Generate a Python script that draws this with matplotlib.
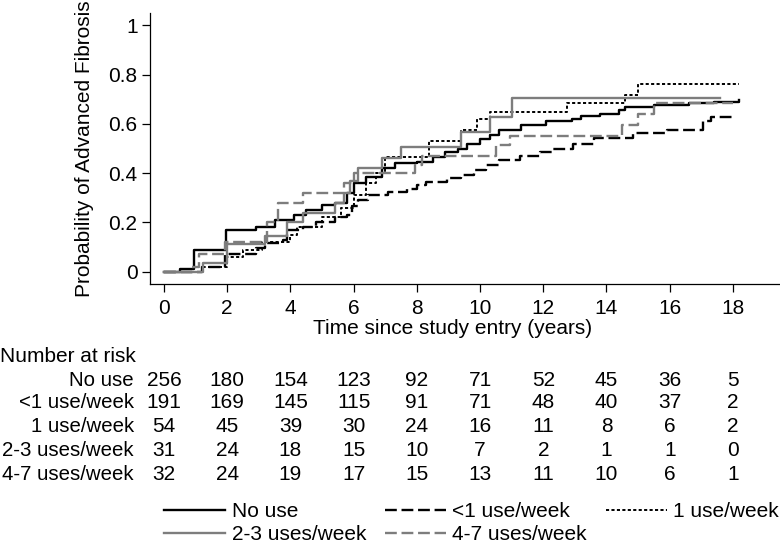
import matplotlib
matplotlib.use("Agg")
import matplotlib.pyplot as plt
import matplotlib.transforms as mtransforms

plt.rcParams['font.family'] = ['Liberation Sans', 'DejaVu Sans']

# ---------------- data ----------------
groups = ["No use", "<1 use/week", "1 use/week", "2-3 uses/week", "4-7 uses/week"]

t_none = [0, 0.5, 0.95, 1.95, 2.9, 3.5, 4.1, 4.5, 5.0, 5.4, 5.8, 6.0, 6.4, 6.9, 7.3, 8.0, 8.5,
          8.9, 9.3, 9.6, 10.0, 10.3, 10.6, 11.3, 12.1, 12.9, 13.2, 13.8, 14.4, 14.6, 15.5,
          16.6, 17.4, 18.2]
p_none = [0, 0.01, 0.09, 0.17, 0.18, 0.21, 0.23, 0.25, 0.27, 0.28, 0.32, 0.36, 0.385, 0.42,
          0.44, 0.445, 0.466, 0.485, 0.50, 0.52, 0.54, 0.555, 0.575, 0.595, 0.61, 0.62, 0.63,
          0.64, 0.655, 0.67, 0.675, 0.685, 0.69, 0.695]

t_lt1 = [0, 1.2, 1.93, 2.9, 3.2, 3.75, 3.9, 4.4, 4.8, 5.4, 5.8, 5.95, 6.15, 6.45, 7.1, 7.7,
         8.0, 8.3, 8.95, 9.4, 9.8, 10.2, 10.6, 11.27, 11.9, 12.3, 12.95, 13.6, 14.85, 15.9,
         17.05, 17.3, 18.0]
p_lt1 = [0, 0.02, 0.07, 0.095, 0.115, 0.13, 0.17, 0.18, 0.2, 0.22, 0.23, 0.265, 0.29, 0.31,
         0.325, 0.335, 0.35, 0.365, 0.38, 0.393, 0.413, 0.433, 0.453, 0.47, 0.486, 0.50,
         0.518, 0.542, 0.563, 0.575, 0.61, 0.628, 0.628]

t_one = [0, 1.2, 2.0, 2.5, 3.1, 4.0, 4.2, 5.0, 5.6, 6.0, 6.4, 6.7, 7.0, 8.4, 9.4, 9.9, 10.3,
         12.75, 14.6, 15.0, 18.2]
p_one = [0, 0.02, 0.06, 0.09, 0.12, 0.15, 0.18, 0.22, 0.26, 0.31, 0.36, 0.40, 0.466, 0.53,
         0.575, 0.62, 0.65, 0.683, 0.717, 0.76, 0.76]

t_23 = [0, 1.23, 2.0, 3.2, 3.9, 4.4, 5.4, 5.7, 5.9, 6.15, 6.9, 7.5, 9.4, 10.3, 11.0, 17.6]
p_23 = [0, 0.037, 0.113, 0.146, 0.2, 0.24, 0.28, 0.32, 0.37, 0.42, 0.46, 0.506, 0.567,
        0.628, 0.704, 0.704]

t_47 = [0, 0.9, 1.1, 1.93, 3.25, 3.6, 4.4, 5.7, 6.0, 7.95, 8.15, 10.5, 10.95, 14.5, 15.0,
        15.5, 18.0]
p_47 = [0, 0.02, 0.07, 0.12, 0.2, 0.28, 0.32, 0.36, 0.40, 0.433, 0.47, 0.514, 0.55, 0.595,
        0.64, 0.684, 0.684]

risk_times = [0, 2, 4, 6, 8, 10, 12, 14, 16, 18]
risk_none = [256, 180, 154, 123, 92, 71, 52, 45, 36, 5]
risk_lt1 = [191, 169, 145, 115, 91, 71, 48, 40, 37, 2]
risk_one = [54, 45, 39, 30, 24, 16, 11, 8, 6, 2]
risk_23 = [31, 24, 18, 15, 10, 7, 2, 1, 1, 0]
risk_47 = [32, 24, 19, 17, 15, 13, 11, 10, 6, 1]

xticks = [0, 2, 4, 6, 8, 10, 12, 14, 16, 18]
yticks = [0, 0.2, 0.4, 0.6, 0.8, 1.0]
ytick_labels = ["0", "0.2", "0.4", "0.6", "0.8", "1"]

# ---------------- figure ----------------
W, H = 780, 550
FS = 15
fig = plt.figure(figsize=(W / 100, H / 100), dpi=100)
ax = fig.add_axes([150 / W, 1 - 284 / H, 630 / W, 271 / H])

gray = "#7d7d7d"
styles = [
    dict(color="black", lw=1.7, ls="-"),
    dict(color="black", lw=1.7, ls=(0, (5, 2))),
    dict(color="black", lw=1.4, ls=(0, (1.6, 1.2))),
    dict(color=gray, lw=1.7, ls="-"),
    dict(color=gray, lw=1.7, ls=(0, (5, 2))),
]
series = [(t_none, p_none), (t_lt1, p_lt1), (t_one, p_one), (t_23, p_23), (t_47, p_47)]
handles = []
for (t, p), st, name in zip(series, styles, groups):
    h, = ax.step(t, p, where="post", label=name, **st)
    handles.append(h)

ax.set_xlim(-0.443, 19.49)
ax.set_ylim(-0.05, 1.05)
ax.set_xticks(xticks)
ax.set_xticklabels([str(v) for v in xticks])
ax.set_yticks(yticks)
ax.set_yticklabels(ytick_labels)
ax.tick_params(axis="both", labelsize=FS, length=6, width=0.9, direction="out", colors="black")
ax.tick_params(axis="x", pad=5)
ax.tick_params(axis="y", pad=3)
for s in ["top", "right"]:
    ax.spines[s].set_visible(False)
for s in ["left", "bottom"]:
    ax.spines[s].set_linewidth(0.9)

ax.set_xlabel("Time since study entry (years)", fontsize=FS, va="top")
ax.xaxis.set_label_coords(0.48, -(319 - 284) / 271)
ax.set_ylabel("Probability of Advanced Fibrosis", fontsize=FS)
ax.yaxis.set_label_coords((94 - 150) / 630, 0.5)

# ---------------- number at risk table ----------------
trans = mtransforms.blended_transform_factory(ax.transData, fig.transFigure)
fig.text(0 / W, 1 - 357 / H, "Number at risk", fontsize=FS, ha="left", va="center")
rows = [risk_none, risk_lt1, risk_one, risk_23, risk_47]
row_y = [380, 403, 427, 450, 474]
for name, vals, yp in zip(groups, rows, row_y):
    fig.text(134 / W, 1 - yp / H, name, fontsize=14.7, ha="right", va="center")
    for tt, v in zip(risk_times, vals):
        ax.text(tt, 1 - yp / H, str(v), transform=trans, fontsize=FS,
                ha="center", va="center", clip_on=False)

# ---------------- legend ----------------
order = [0, 3, 1, 4, 2]
leg = fig.legend([handles[i] for i in order], [groups[i] for i in order],
                 ncol=3, loc="upper left", bbox_to_anchor=(164 / W, 1 - 502 / H),
                 frameon=False, fontsize=FS, handlelength=2.95, handletextpad=0.29,
                 columnspacing=0.9, labelspacing=0.2, borderpad=0, borderaxespad=0)

fig.savefig("out.png", dpi=100)
